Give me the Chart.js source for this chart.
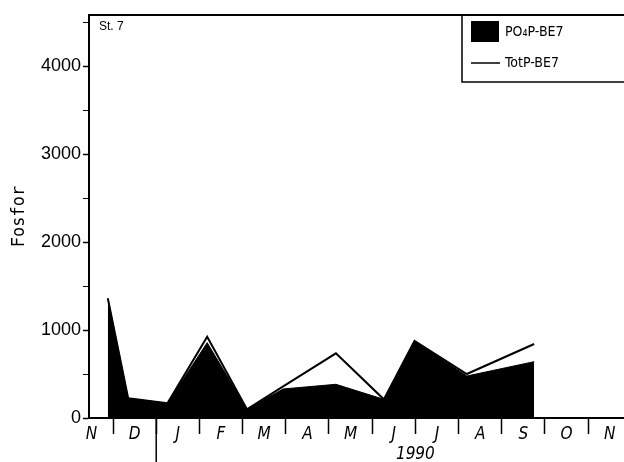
<!DOCTYPE html>
<html>
<head>
<meta charset="utf-8">
<script src="https://cdn.jsdelivr.net/npm/chart.js@4/dist/chart.umd.min.js"></script>
<style>
  html, body { margin: 0; padding: 0; background: #fff; }
</style>
</head>
<body>
<canvas id="chart" width="624" height="462"></canvas>
<script>
// sampling dates as month positions (0 = Nov 1989 ... 12 = Nov 1990)
const sampleMonths = [0.38, 0.85, 1.76, 2.68, 3.60, 4.44, 5.66, 6.77, 7.48, 8.69, 10.25];
const po4P = [1360, 224, 167, 856, 99, 330, 383, 212, 875, 477, 640];
const totP = [1360, 224, 167, 924, 99, 360, 735, 212, 875, 500, 841];

const monthLabels = ['N', 'D', 'J', 'F', 'M', 'A', 'M', 'J', 'J', 'A', 'S', 'O', 'N'];
const yearLabel = '1990';
const yearLabelPos = 7.5;
const yearDivider = 1.5;
const yTicks = [0, 500, 1000, 1500, 2000, 2500, 3000, 3500, 4000, 4500];
const stationLabel = 'St. 7';
const seriesNames = ['PO\u2084P-BE7', 'TotP-BE7'];

const toPoints = (ys) => sampleMonths.map((x, i) => ({ x: x, y: ys[i] }));

const decor = {
    id: 'decor',
    afterDraw(chart) {
        const ctx = chart.ctx;
        const area = chart.chartArea;
        const xs = chart.scales.x;
        ctx.save();
        ctx.strokeStyle = '#000';

        // top frame line
        ctx.lineWidth = 2;
        ctx.beginPath();
        ctx.moveTo(area.left, area.top);
        ctx.lineTo(chart.width, area.top);
        ctx.stroke();

        // long tick separating 1989 / 1990
        const px = xs.getPixelForValue(yearDivider);
        ctx.lineWidth = 1.5;
        ctx.beginPath();
        ctx.moveTo(px, area.bottom);
        ctx.lineTo(px, chart.height);
        ctx.stroke();

        // station label
        ctx.fillStyle = '#000';
        ctx.font = '12px "Liberation Sans", sans-serif';
        ctx.textBaseline = 'alphabetic';
        ctx.textAlign = 'left';
        ctx.fillText(stationLabel, area.left + 10, area.top + 15);

        // legend box
        const lx = 462, ly = area.top, lh = 67;
        ctx.lineWidth = 1.5;
        ctx.strokeRect(lx, ly, chart.width - lx + 5, lh);
        ctx.fillRect(lx + 9, ly + 6, 28, 21);
        ctx.beginPath();
        ctx.moveTo(lx + 9, ly + 48);
        ctx.lineTo(lx + 38, ly + 48);
        ctx.stroke();
        ctx.font = '14px "DejaVu Sans Condensed", sans-serif';
        ctx.textBaseline = 'middle';
        ctx.fillText(seriesNames[0], lx + 43, ly + 17);
        ctx.fillText(seriesNames[1], lx + 43, ly + 48);
        ctx.restore();
    }
};

new Chart(document.getElementById('chart'), {
    type: 'line',
    data: {
        datasets: [
            {
                label: seriesNames[0],
                data: toPoints(po4P),
                borderColor: '#000',
                backgroundColor: '#000',
                borderWidth: 1,
                pointRadius: 0,
                fill: 'origin',
                tension: 0,
                order: 1
            },
            {
                label: seriesNames[1],
                data: toPoints(totP),
                borderColor: '#000',
                backgroundColor: 'rgba(0,0,0,0)',
                borderWidth: 2,
                pointRadius: 0,
                fill: false,
                tension: 0,
                order: 0
            }
        ]
    },
    options: {
        responsive: false,
        animation: false,
        layout: { padding: { top: 15, right: 0, bottom: 0, left: 0 } },
        plugins: {
            legend: { display: false },
            tooltip: { enabled: false }
        },
        scales: {
            x: {
                type: 'linear',
                min: -0.056,
                max: 12.33,
                afterBuildTicks: (scale) => {
                    const t = [];
                    for (let v = 0; v <= 12; v += 0.5) t.push({ value: v });
                    scale.ticks = t;
                },
                afterFit: (scale) => { scale.height = 44; },
                border: { color: '#000', width: 2 },
                grid: {
                    drawOnChartArea: false,
                    tickLength: 16,
                    tickWidth: 1.5,
                    tickColor: (c) => (c.tick && Number.isInteger(c.tick.value)) ? 'rgba(0,0,0,0)' : '#000'
                },
                ticks: {
                    autoSkip: false,
                    maxRotation: 0,
                    padding: -10,
                    color: '#000',
                    font: { family: '"DejaVu Sans Condensed", sans-serif', size: 17, style: 'italic' },
                    callback: (v) => {
                        if (Number.isInteger(v)) return monthLabels[v];
                        if (v === yearLabelPos) return ['', yearLabel];
                        return '';
                    }
                }
            },
            y: {
                min: 0,
                max: 4580,
                afterBuildTicks: (scale) => {
                    scale.ticks = yTicks.map(v => ({ value: v }));
                },
                afterFit: (scale) => { scale.width = 89; },
                border: { color: '#000', width: 2 },
                grid: {
                    drawOnChartArea: false,
                    tickLength: 6,
                    tickWidth: (c) => (c.tick && c.tick.value % 1000 === 0) ? 1.5 : 1,
                    tickColor: '#000'
                },
                ticks: {
                    padding: 2,
                    color: '#000',
                    font: { family: '"Liberation Sans", sans-serif', size: 18 },
                    callback: (v) => (v % 1000 === 0 ? String(v) : '')
                },
                title: {
                    display: true,
                    text: 'Fosfor',
                    color: '#000',
                    padding: { top: 9, bottom: 0 },
                    font: { family: '"DejaVu Sans Mono", monospace', size: 17 }
                }
            }
        }
    },
    plugins: [decor]
});
</script>
</body>
</html>
